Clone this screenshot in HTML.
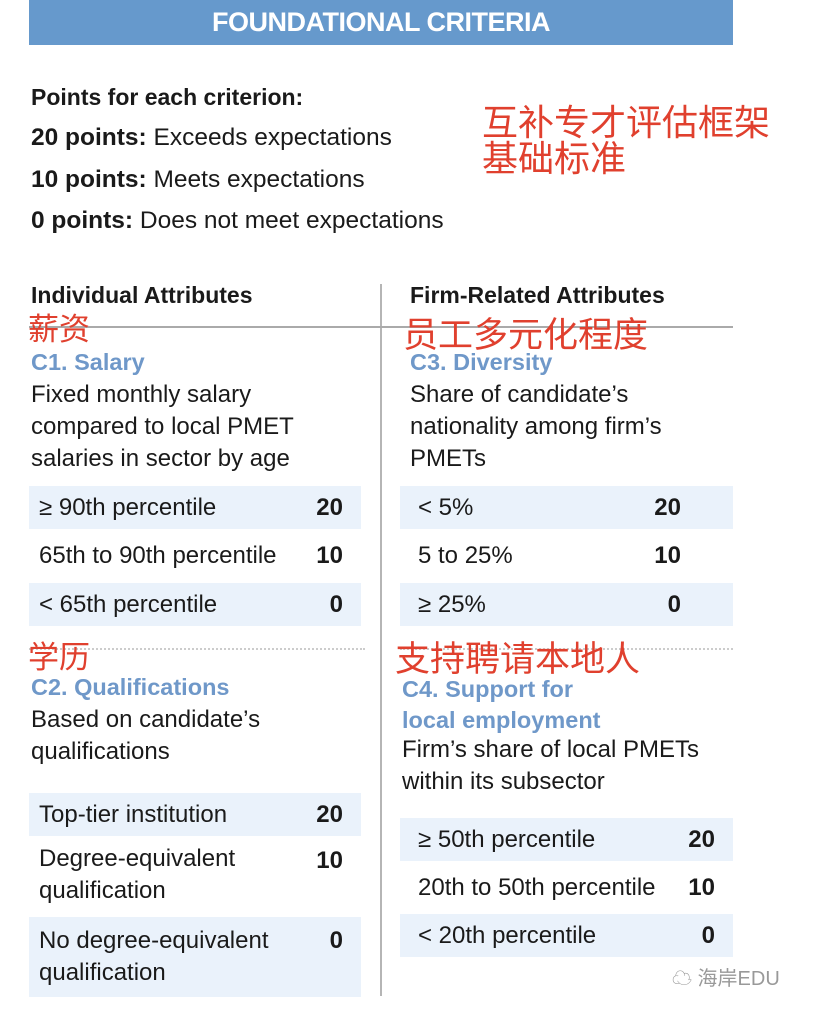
<!DOCTYPE html>
<html><head><meta charset="utf-8">
<style>
body{margin:0;width:816px;height:1012px;background:#fff;position:relative;overflow:hidden;font-family:"Liberation Sans","Noto Sans CJK SC",sans-serif;color:#1a1a1a}
.a{position:absolute;white-space:nowrap}
.t{font-size:24px;line-height:32px}
.b{font-weight:bold}
.cn{color:#e0402e;font-family:"Noto Sans CJK SC",sans-serif}
.blue{color:#6f98c9;font-weight:bold;font-size:23.5px}
.row{position:absolute;height:43px}
.row.s{background:#eaf2fb}
.row span{position:absolute;font-size:24px;top:50%;transform:translateY(-50%)}
.row .v{font-weight:bold;right:18px}
</style></head><body>
<div class="a" style="left:29px;top:0;width:704px;height:45px;background:#6699cc"></div>
<div class="a b" style="left:29px;top:7px;width:704px;text-align:center;color:#fff;font-size:27px;letter-spacing:-0.5px">FOUNDATIONAL CRITERIA</div>

<div class="a t b" style="left:31px;top:81px;font-size:23px">Points for each criterion:</div>
<div class="a t" style="left:31px;top:122px;font-size:24.5px"><b>20 points:</b> Exceeds expectations</div>
<div class="a t" style="left:31px;top:164px;font-size:24.5px"><b>10 points:</b> Meets expectations</div>
<div class="a t" style="left:31px;top:205px;font-size:24.5px"><b>0 points:</b> Does not meet expectations</div>
<div class="a cn" style="left:482px;top:102px;font-size:36px;line-height:36px">互补专才评估框架<br>基础标准</div>

<div class="a" style="left:380px;top:284px;width:2px;height:712px;background:#b5b5b5"></div>
<div class="a" style="left:29px;top:326px;width:704px;height:2px;background:#aaa"></div>
<div class="a t b" style="left:31px;top:279px;font-size:23px">Individual Attributes</div>
<div class="a t b" style="left:410px;top:279px;font-size:23px">Firm-Related Attributes</div>
<div class="a cn" style="left:28px;top:309px;font-size:31px;line-height:36px">薪资</div>
<div class="a cn" style="left:403px;top:313px;font-size:35px;line-height:40px">员工多元化程度</div>

<div class="a blue" style="left:31px;top:349px">C1. Salary</div>
<div class="a t" style="left:31px;top:379px">Fixed monthly salary<br>compared to local PMET<br>salaries in sector by age</div>
<div class="a blue" style="left:410px;top:349px">C3. Diversity</div>
<div class="a t" style="left:410px;top:379px">Share of candidate’s<br>nationality among firm’s<br>PMETs</div>

<div class="row s" style="left:29px;top:486px;width:332px"><span style="left:10px">≥ 90th percentile</span><span class="v">20</span></div>
<div class="row" style="left:29px;top:534px;width:332px"><span style="left:10px">65th to 90th percentile</span><span class="v">10</span></div>
<div class="row s" style="left:29px;top:583px;width:332px"><span style="left:10px">&lt; 65th percentile</span><span class="v">0</span></div>
<div class="row s" style="left:400px;top:486px;width:333px"><span style="left:18px">&lt; 5%</span><span class="v" style="right:52px">20</span></div>
<div class="row" style="left:400px;top:534px;width:333px"><span style="left:18px">5 to 25%</span><span class="v" style="right:52px">10</span></div>
<div class="row s" style="left:400px;top:583px;width:333px"><span style="left:18px">≥ 25%</span><span class="v" style="right:52px">0</span></div>

<div class="a" style="left:29px;top:648px;width:336px;border-top:2px dotted #ccc"></div>
<div class="a" style="left:400px;top:648px;width:333px;border-top:2px dotted #ccc"></div>
<div class="a cn" style="left:28px;top:636px;font-size:31px;line-height:38px">学历</div>
<div class="a cn" style="left:395px;top:637px;font-size:35px;line-height:40px">支持聘请本地人</div>

<div class="a blue" style="left:31px;top:674px">C2. Qualifications</div>
<div class="a t" style="left:31px;top:704px">Based on candidate’s<br>qualifications</div>
<div class="a blue" style="left:402px;top:674px;line-height:31px">C4. Support for<br>local employment</div>
<div class="a t" style="left:402px;top:734px">Firm’s share of local PMETs<br>within its subsector</div>

<div class="row s" style="left:29px;top:793px;width:332px"><span style="left:10px">Top-tier institution</span><span class="v">20</span></div>
<div class="row" style="left:29px;top:839px;width:332px;height:72px"><span style="left:10px;line-height:32px">Degree-equivalent<br>qualification</span><span class="v" style="top:22px">10</span></div>
<div class="row s" style="left:29px;top:917px;width:332px;height:80px"><span style="left:10px;line-height:32px">No degree-equivalent<br>qualification</span><span class="v" style="top:24px">0</span></div>
<div class="row s" style="left:400px;top:818px;width:333px"><span style="left:18px">≥ 50th percentile</span><span class="v">20</span></div>
<div class="row" style="left:400px;top:866px;width:333px"><span style="left:18px">20th to 50th percentile</span><span class="v">10</span></div>
<div class="row s" style="left:400px;top:914px;width:333px"><span style="left:18px">&lt; 20th percentile</span><span class="v">0</span></div>

<div class="a" style="left:672px;top:962px;font-size:20px;color:#999"><span style="font-size:20px">☁</span> 海岸EDU</div>
</body></html>
